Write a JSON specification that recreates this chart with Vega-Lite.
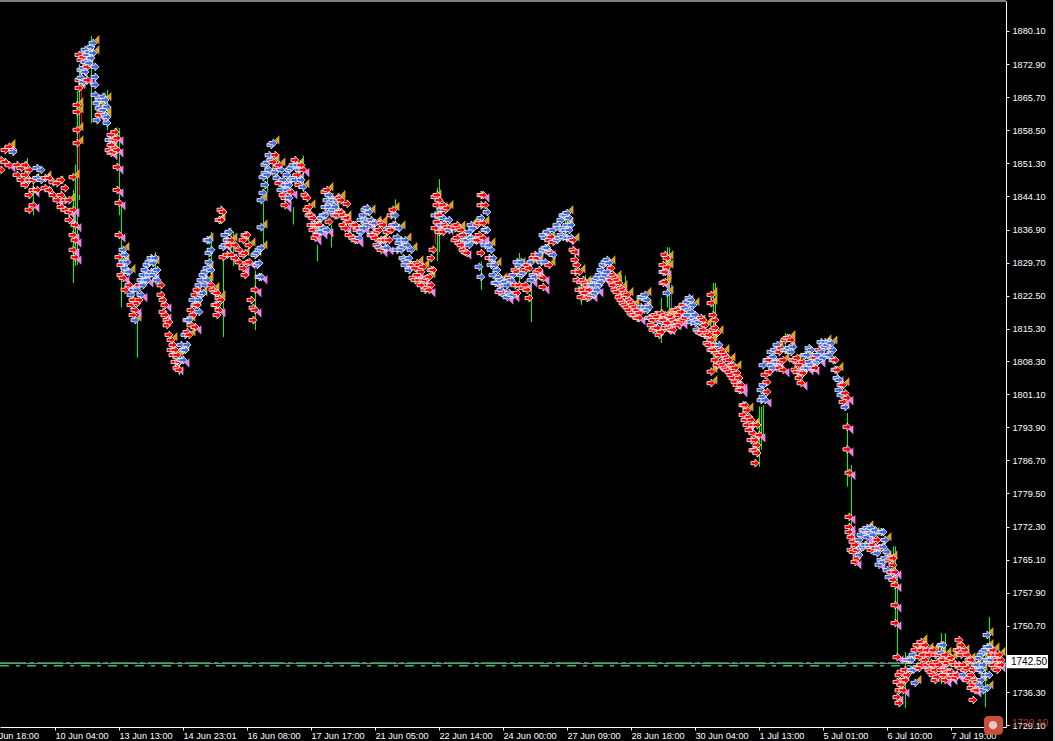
{
"$schema":"https://vega.github.io/schema/vega-lite/v6.json",
"autosize":{"type":"none"},
"padding":{"left":0,"top":1,"right":49,"bottom":14},
"width":1006,
"height":726,
"background":"#000000",
"view":{"stroke":null},
"config":{"font":"Liberation Sans"},
"datasets":{
"arrows":[
{"b":5,"p":1852.0,"k":"rg"},{"b":5,"p":1849.9,"k":"rp"},{"b":7,"p":1854.2,"k":"rg"},{"b":7,"p":1851.6,"k":"rp"},{"b":9,"p":1854.9,"k":"rg"},{"b":9,"p":1850.9,"k":"rp"},{"b":11,"p":1854.2,"k":"rg"},{"b":11,"p":1853.8,"k":"bp"},
{"b":13,"p":1850.9,"k":"rg"},{"b":13,"p":1848.8,"k":"rp"},{"b":15,"p":1850.3,"k":"rg"},{"b":15,"p":1847.7,"k":"rp"},{"b":17,"p":1850.9,"k":"rg"},{"b":17,"p":1848.8,"k":"rg"},{"b":17,"p":1846.6,"k":"rp"},
{"b":19,"p":1849.9,"k":"rg"},{"b":19,"p":1847.7,"k":"rg"},{"b":19,"p":1844.4,"k":"rp"},{"b":19,"p":1841.2,"k":"rp"},{"b":21,"p":1847.7,"k":"rg"},{"b":21,"p":1845.5,"k":"rp"},{"b":21,"p":1842.2,"k":"rp"},
{"b":23,"p":1850.3,"k":"bg"},{"b":23,"p":1848.1,"k":"bp"},{"b":23,"p":1845.5,"k":"rp"},{"b":25,"p":1849.9,"k":"bg"},{"b":25,"p":1847.7,"k":"bp"},{"b":27,"p":1848.1,"k":"rg"},{"b":27,"p":1845.9,"k":"rp"},
{"b":29,"p":1848.1,"k":"rg"},{"b":29,"p":1845.5,"k":"rp"},{"b":31,"p":1847.2,"k":"rg"},{"b":31,"p":1844.4,"k":"rp"},{"b":33,"p":1847.0,"k":"rg"},{"b":33,"p":1843.3,"k":"rp"},{"b":35,"p":1847.7,"k":"rg"},{"b":35,"p":1844.4,"k":"rp"},{"b":35,"p":1841.8,"k":"rp"},
{"b":37,"p":1845.9,"k":"rg"},{"b":37,"p":1843.3,"k":"rp"},{"b":37,"p":1841.2,"k":"rp"},{"b":39,"p":1843.3,"k":"rg"},{"b":39,"p":1840.7,"k":"rp"},{"b":39,"p":1839.0,"k":"rp"},
{"b":41,"p":1848.3,"k":"rg"},{"b":41,"p":1841.2,"k":"rp"},{"b":41,"p":1835.7,"k":"rp"},{"b":41,"p":1832.5,"k":"rp"},{"b":42,"p":1837.9,"k":"rp"},{"b":42,"p":1834.6,"k":"rp"},{"b":42,"p":1830.9,"k":"rp"},
{"b":43,"p":1855.7,"k":"rg"},{"b":43,"p":1858.6,"k":"rg"},{"b":43,"p":1862.5,"k":"rg"},{"b":43,"p":1864.0,"k":"rg"},{"b":44,"p":1867.7,"k":"rg"},{"b":44,"p":1869.4,"k":"rp"},{"b":44,"p":1874.9,"k":"rg"},
{"b":45,"p":1873.8,"k":"rg"},{"b":45,"p":1871.6,"k":"bp"},{"b":45,"p":1869.9,"k":"bp"},{"b":46,"p":1874.4,"k":"rg"},{"b":46,"p":1872.0,"k":"bp"},{"b":46,"p":1869.0,"k":"bp"},{"b":47,"p":1876.0,"k":"bg"},{"b":47,"p":1873.4,"k":"bp"},{"b":47,"p":1871.2,"k":"bp"},
{"b":48,"p":1872.3,"k":"rg"},{"b":48,"p":1874.9,"k":"bg"},{"b":48,"p":1869.4,"k":"rp"},{"b":49,"p":1875.5,"k":"bg"},{"b":49,"p":1873.1,"k":"bg"},{"b":50,"p":1876.6,"k":"bg"},{"b":50,"p":1874.2,"k":"bg"},{"b":51,"p":1877.5,"k":"bg"},{"b":51,"p":1875.3,"k":"bg"},
{"b":52,"p":1872.3,"k":"bp"},{"b":52,"p":1870.1,"k":"bp"},{"b":52,"p":1868.4,"k":"bp"},{"b":52,"p":1866.2,"k":"bp"},{"b":53,"p":1860.7,"k":"bp"},{"b":53,"p":1864.4,"k":"bg"},{"b":54,"p":1865.1,"k":"bg"},{"b":54,"p":1863.3,"k":"bg"},{"b":54,"p":1861.8,"k":"rp"},
{"b":55,"p":1865.1,"k":"bg"},{"b":55,"p":1862.5,"k":"rp"},{"b":56,"p":1865.8,"k":"bg"},{"b":56,"p":1862.9,"k":"bg"},{"b":57,"p":1865.1,"k":"bg"},{"b":57,"p":1861.8,"k":"bg"},{"b":58,"p":1863.6,"k":"bg"},{"b":58,"p":1860.1,"k":"bp"},{"b":58,"p":1861.4,"k":"bg"},
{"b":59,"p":1856.4,"k":"bg"},{"b":59,"p":1854.2,"k":"rp"},{"b":60,"p":1857.5,"k":"rg"},{"b":60,"p":1855.3,"k":"rg"},{"b":60,"p":1853.6,"k":"rp"},{"b":61,"p":1856.4,"k":"rg"},{"b":61,"p":1853.8,"k":"rp"},{"b":62,"p":1858.1,"k":"rp"},{"b":62,"p":1856.4,"k":"rp"},{"b":62,"p":1854.6,"k":"rp"},
{"b":63,"p":1856.8,"k":"rp"},{"b":63,"p":1854.2,"k":"rp"},{"b":63,"p":1850.5,"k":"rp"},{"b":63,"p":1845.5,"k":"rp"},{"b":64,"p":1842.7,"k":"rp"},{"b":64,"p":1835.7,"k":"rp"},{"b":64,"p":1830.9,"k":"rg"},
{"b":65,"p":1829.2,"k":"rg"},{"b":65,"p":1827.0,"k":"rp"},{"b":66,"p":1832.5,"k":"bg"},{"b":66,"p":1829.8,"k":"bg"},{"b":66,"p":1826.4,"k":"rp"},{"b":67,"p":1831.4,"k":"bg"},{"b":67,"p":1828.5,"k":"bp"},{"b":67,"p":1823.8,"k":"rp"},{"b":68,"p":1829.8,"k":"bg"},{"b":68,"p":1827.7,"k":"bp"},
{"b":69,"p":1827.7,"k":"bg"},{"b":69,"p":1824.8,"k":"rp"},{"b":70,"p":1822.7,"k":"bg"},{"b":70,"p":1820.5,"k":"rp"},{"b":71,"p":1823.8,"k":"bg"},{"b":71,"p":1821.6,"k":"rp"},{"b":71,"p":1818.3,"k":"rp"},{"b":72,"p":1817.2,"k":"bg"},{"b":72,"p":1819.4,"k":"rp"},
{"b":73,"p":1823.8,"k":"bg"},{"b":73,"p":1820.9,"k":"rg"},{"b":74,"p":1824.8,"k":"rg"},{"b":74,"p":1821.6,"k":"rp"},{"b":75,"p":1825.9,"k":"bg"},{"b":75,"p":1822.7,"k":"bp"},{"b":76,"p":1827.0,"k":"bg"},{"b":76,"p":1824.8,"k":"bg"},{"b":77,"p":1828.1,"k":"bg"},{"b":77,"p":1825.9,"k":"bp"},
{"b":78,"p":1829.2,"k":"bg"},{"b":78,"p":1825.9,"k":"bp"},{"b":79,"p":1829.8,"k":"bg"},{"b":79,"p":1827.0,"k":"bg"},{"b":80,"p":1830.7,"k":"bg"},{"b":80,"p":1827.7,"k":"bp"},{"b":81,"p":1829.6,"k":"bg"},{"b":81,"p":1827.0,"k":"bp"},{"b":82,"p":1830.7,"k":"bg"},{"b":82,"p":1827.7,"k":"bg"},{"b":83,"p":1828.1,"k":"bg"},{"b":83,"p":1825.9,"k":"bp"},
{"b":85,"p":1824.8,"k":"rg"},{"b":85,"p":1822.7,"k":"rp"},{"b":86,"p":1821.6,"k":"rg"},{"b":86,"p":1819.0,"k":"rp"},{"b":87,"p":1820.5,"k":"rp"},{"b":87,"p":1818.3,"k":"rp"},{"b":88,"p":1817.2,"k":"rg"},{"b":88,"p":1816.1,"k":"rp"},{"b":89,"p":1816.8,"k":"rg"},{"b":89,"p":1814.0,"k":"rp"},
{"b":90,"p":1812.9,"k":"rg"},{"b":90,"p":1810.7,"k":"rp"},{"b":91,"p":1811.8,"k":"rg"},{"b":91,"p":1809.6,"k":"rp"},{"b":92,"p":1810.7,"k":"rg"},{"b":92,"p":1808.1,"k":"rp"},{"b":93,"p":1809.6,"k":"rg"},{"b":93,"p":1806.8,"k":"rp"},{"b":94,"p":1808.1,"k":"rg"},{"b":94,"p":1806.4,"k":"rp"},
{"b":95,"p":1808.5,"k":"bg"},{"b":95,"p":1811.8,"k":"bg"},{"b":96,"p":1810.7,"k":"bg"},{"b":96,"p":1808.5,"k":"bp"},{"b":97,"p":1814.0,"k":"bg"},{"b":97,"p":1810.7,"k":"bp"},{"b":98,"p":1817.2,"k":"bg"},{"b":98,"p":1814.6,"k":"rg"},{"b":98,"p":1811.8,"k":"bg"},{"b":99,"p":1817.2,"k":"bg"},{"b":99,"p":1814.0,"k":"rg"},
{"b":100,"p":1819.4,"k":"rg"},{"b":100,"p":1816.1,"k":"rp"},{"b":101,"p":1821.6,"k":"bg"},{"b":101,"p":1818.3,"k":"rp"},{"b":102,"p":1822.7,"k":"rg"},{"b":102,"p":1820.5,"k":"bg"},{"b":102,"p":1815.7,"k":"rp"},{"b":103,"p":1823.8,"k":"rg"},{"b":103,"p":1820.5,"k":"rp"},
{"b":104,"p":1824.8,"k":"bg"},{"b":104,"p":1821.6,"k":"bg"},{"b":104,"p":1819.0,"k":"bp"},{"b":105,"p":1825.9,"k":"bg"},{"b":105,"p":1822.7,"k":"bg"},{"b":106,"p":1827.0,"k":"bg"},{"b":106,"p":1823.1,"k":"bg"},{"b":107,"p":1827.7,"k":"bg"},{"b":107,"p":1824.8,"k":"bg"},
{"b":108,"p":1828.5,"k":"bg"},{"b":108,"p":1825.9,"k":"bg"},{"b":108,"p":1834.6,"k":"bg"},{"b":109,"p":1834.6,"k":"bg"},{"b":109,"p":1831.8,"k":"bg"},{"b":109,"p":1829.8,"k":"bp"},{"b":110,"p":1828.1,"k":"bg"},{"b":110,"p":1832.5,"k":"bg"},{"b":110,"p":1824.8,"k":"rg"},
{"b":111,"p":1823.8,"k":"rg"},{"b":112,"p":1823.3,"k":"rg"},{"b":112,"p":1820.5,"k":"rp"},{"b":113,"p":1823.1,"k":"rg"},{"b":113,"p":1820.5,"k":"rp"},{"b":113,"p":1818.3,"k":"rp"},{"b":114,"p":1822.0,"k":"rg"},{"b":114,"p":1819.4,"k":"rp"},{"b":114,"p":1839.0,"k":"rg"},
{"b":115,"p":1841.2,"k":"rg"},{"b":115,"p":1839.0,"k":"rg"},{"b":115,"p":1821.6,"k":"rp"},{"b":116,"p":1840.7,"k":"rg"},{"b":116,"p":1833.1,"k":"bp"},{"b":116,"p":1830.9,"k":"rp"},{"b":117,"p":1835.7,"k":"bg"},{"b":117,"p":1833.5,"k":"bp"},{"b":118,"p":1834.6,"k":"bg"},{"b":118,"p":1831.4,"k":"rp"},{"b":119,"p":1836.4,"k":"bg"},{"b":119,"p":1833.5,"k":"rp"},
{"b":120,"p":1834.6,"k":"rg"},{"b":120,"p":1831.4,"k":"rp"},{"b":122,"p":1833.5,"k":"rg"},{"b":122,"p":1830.7,"k":"rp"},{"b":124,"p":1832.5,"k":"rg"},{"b":124,"p":1829.8,"k":"rp"},{"b":126,"p":1834.6,"k":"rg"},{"b":126,"p":1831.4,"k":"rg"},{"b":126,"p":1828.5,"k":"rp"},
{"b":127,"p":1835.7,"k":"rg"},{"b":127,"p":1831.8,"k":"rg"},{"b":127,"p":1827.0,"k":"rp"},{"b":128,"p":1835.7,"k":"rp"},{"b":128,"p":1829.6,"k":"rp"},{"b":129,"p":1833.5,"k":"rg"},{"b":129,"p":1829.8,"k":"rp"},{"b":130,"p":1821.6,"k":"rg"},{"b":131,"p":1817.2,"k":"rp"},{"b":131,"p":1819.9,"k":"rg"},
{"b":132,"p":1823.8,"k":"rp"},{"b":132,"p":1819.4,"k":"rp"},{"b":132,"p":1831.4,"k":"bg"},{"b":133,"p":1831.8,"k":"bg"},{"b":133,"p":1829.2,"k":"bg"},{"b":134,"p":1832.5,"k":"bp"},{"b":134,"p":1829.6,"k":"bg"},{"b":134,"p":1826.6,"k":"bg"},{"b":135,"p":1826.6,"k":"bp"},{"b":135,"p":1832.9,"k":"bg"},{"b":135,"p":1837.4,"k":"bg"},{"b":135,"p":1843.3,"k":"bg"},
{"b":136,"p":1844.9,"k":"bg"},{"b":136,"p":1848.3,"k":"bg"},{"b":137,"p":1849.2,"k":"bg"},{"b":137,"p":1846.6,"k":"bg"},{"b":137,"p":1851.0,"k":"bg"},{"b":138,"p":1851.4,"k":"bg"},{"b":138,"p":1848.8,"k":"bg"},{"b":139,"p":1853.1,"k":"bg"},{"b":139,"p":1849.9,"k":"bg"},
{"b":140,"p":1855.3,"k":"bg"},{"b":140,"p":1852.0,"k":"bg"},{"b":141,"p":1855.7,"k":"bg"},{"b":141,"p":1851.6,"k":"rg"},{"b":142,"p":1853.1,"k":"rg"},{"b":142,"p":1849.4,"k":"bp"},{"b":143,"p":1850.5,"k":"rp"},{"b":143,"p":1848.1,"k":"bg"},{"b":144,"p":1850.9,"k":"rg"},{"b":144,"p":1847.0,"k":"rp"},
{"b":145,"p":1849.9,"k":"bg"},{"b":145,"p":1845.5,"k":"bp"},{"b":146,"p":1847.7,"k":"bg"},{"b":146,"p":1844.4,"k":"rp"},{"b":147,"p":1846.6,"k":"bg"},{"b":147,"p":1843.8,"k":"rp"},{"b":147,"p":1842.2,"k":"rp"},{"b":148,"p":1848.8,"k":"bg"},{"b":148,"p":1845.5,"k":"bp"},
{"b":149,"p":1849.9,"k":"bg"},{"b":149,"p":1846.6,"k":"bg"},{"b":149,"p":1843.8,"k":"bp"},{"b":150,"p":1850.3,"k":"bg"},{"b":150,"p":1847.7,"k":"bg"},{"b":150,"p":1845.1,"k":"rp"},{"b":151,"p":1850.9,"k":"bg"},{"b":151,"p":1848.1,"k":"bp"},{"b":152,"p":1852.0,"k":"rg"},{"b":152,"p":1847.7,"k":"bp"},
{"b":153,"p":1850.9,"k":"bg"},{"b":153,"p":1848.8,"k":"rp"},{"b":154,"p":1849.9,"k":"bg"},{"b":154,"p":1846.6,"k":"rp"},{"b":155,"p":1850.9,"k":"rg"},{"b":155,"p":1847.7,"k":"bp"},{"b":156,"p":1846.2,"k":"bg"},{"b":156,"p":1849.9,"k":"rp"},{"b":157,"p":1844.4,"k":"rg"},
{"b":158,"p":1843.8,"k":"rg"},{"b":158,"p":1841.2,"k":"rp"},{"b":159,"p":1841.8,"k":"rg"},{"b":159,"p":1840.0,"k":"rp"},{"b":160,"p":1840.0,"k":"rg"},{"b":160,"p":1837.9,"k":"rp"},{"b":161,"p":1839.4,"k":"rg"},{"b":161,"p":1836.8,"k":"rp"},{"b":162,"p":1837.9,"k":"rg"},{"b":162,"p":1835.1,"k":"rp"},
{"b":163,"p":1837.9,"k":"rg"},{"b":163,"p":1835.7,"k":"rp"},{"b":164,"p":1836.4,"k":"bg"},{"b":164,"p":1837.9,"k":"rg"},{"b":165,"p":1839.4,"k":"bg"},{"b":165,"p":1836.4,"k":"bp"},{"b":166,"p":1840.0,"k":"bg"},{"b":166,"p":1837.2,"k":"bp"},
{"b":167,"p":1845.1,"k":"rg"},{"b":167,"p":1841.8,"k":"bg"},{"b":167,"p":1840.0,"k":"bp"},{"b":168,"p":1845.5,"k":"rg"},{"b":168,"p":1843.3,"k":"bg"},{"b":168,"p":1836.8,"k":"bp"},{"b":169,"p":1844.4,"k":"bg"},{"b":169,"p":1841.8,"k":"bg"},{"b":169,"p":1838.6,"k":"rp"},
{"b":170,"p":1842.9,"k":"bg"},{"b":170,"p":1840.7,"k":"bg"},{"b":171,"p":1843.3,"k":"bg"},{"b":171,"p":1841.2,"k":"bg"},{"b":172,"p":1841.8,"k":"bg"},{"b":172,"p":1840.0,"k":"rp"},{"b":173,"p":1843.3,"k":"bg"},{"b":173,"p":1840.0,"k":"rp"},{"b":174,"p":1843.8,"k":"rg"},{"b":174,"p":1840.7,"k":"rp"},
{"b":175,"p":1843.3,"k":"rg"},{"b":175,"p":1840.7,"k":"rp"},{"b":176,"p":1840.0,"k":"rg"},{"b":176,"p":1837.9,"k":"rg"},{"b":177,"p":1839.4,"k":"rg"},{"b":177,"p":1837.2,"k":"rp"},{"b":178,"p":1842.5,"k":"rg"},{"b":178,"p":1839.4,"k":"rp"},{"b":179,"p":1838.5,"k":"rg"},{"b":179,"p":1835.7,"k":"rp"},
{"b":181,"p":1837.9,"k":"rg"},{"b":181,"p":1835.1,"k":"rp"},{"b":182,"p":1837.9,"k":"rg"},{"b":182,"p":1834.6,"k":"rp"},{"b":183,"p":1836.8,"k":"rg"},{"b":183,"p":1834.6,"k":"rp"},{"b":184,"p":1837.2,"k":"rg"},{"b":184,"p":1835.1,"k":"bp"},
{"b":185,"p":1839.0,"k":"bg"},{"b":185,"p":1836.4,"k":"bp"},{"b":186,"p":1840.0,"k":"bg"},{"b":186,"p":1837.2,"k":"bp"},{"b":187,"p":1841.2,"k":"bg"},{"b":187,"p":1839.0,"k":"bg"},{"b":188,"p":1841.6,"k":"bg"},{"b":188,"p":1838.6,"k":"bp"},{"b":189,"p":1840.7,"k":"bg"},{"b":189,"p":1837.9,"k":"bp"},
{"b":190,"p":1839.0,"k":"bg"},{"b":190,"p":1835.7,"k":"bp"},{"b":191,"p":1838.3,"k":"rg"},{"b":191,"p":1835.7,"k":"rp"},{"b":192,"p":1838.3,"k":"bg"},{"b":192,"p":1835.1,"k":"rp"},{"b":193,"p":1836.4,"k":"rg"},{"b":193,"p":1833.5,"k":"rp"},{"b":194,"p":1836.8,"k":"rg"},{"b":194,"p":1833.1,"k":"bp"},
{"b":195,"p":1838.3,"k":"rg"},{"b":195,"p":1834.6,"k":"rg"},{"b":195,"p":1832.5,"k":"rp"},{"b":196,"p":1837.9,"k":"rg"},{"b":196,"p":1834.6,"k":"rp"},{"b":197,"p":1834.6,"k":"rg"},{"b":197,"p":1832.9,"k":"bp"},{"b":198,"p":1836.4,"k":"rg"},{"b":198,"p":1832.9,"k":"bp"},
{"b":199,"p":1837.2,"k":"bg"},{"b":199,"p":1834.6,"k":"rp"},{"b":200,"p":1840.0,"k":"rg"},{"b":200,"p":1836.8,"k":"rp"},{"b":201,"p":1841.2,"k":"rg"},{"b":201,"p":1837.9,"k":"rp"},{"b":202,"p":1840.0,"k":"bg"},{"b":202,"p":1837.9,"k":"bp"},{"b":203,"p":1835.2,"k":"bg"},{"b":203,"p":1832.5,"k":"bp"},
{"b":204,"p":1837.2,"k":"bg"},{"b":204,"p":1834.0,"k":"bp"},{"b":205,"p":1834.6,"k":"bg"},{"b":205,"p":1832.5,"k":"bp"},{"b":206,"p":1833.1,"k":"bg"},{"b":206,"p":1830.7,"k":"bp"},{"b":207,"p":1834.6,"k":"bg"},{"b":207,"p":1830.3,"k":"bp"},{"b":207,"p":1829.2,"k":"bp"},
{"b":208,"p":1833.5,"k":"bg"},{"b":208,"p":1829.8,"k":"bp"},{"b":209,"p":1830.7,"k":"bg"},{"b":209,"p":1828.1,"k":"bp"},{"b":210,"p":1832.5,"k":"bg"},{"b":210,"p":1829.2,"k":"rp"},{"b":211,"p":1829.2,"k":"rg"},{"b":211,"p":1826.4,"k":"rp"},{"b":212,"p":1828.5,"k":"rg"},{"b":212,"p":1825.9,"k":"rp"},
{"b":213,"p":1829.6,"k":"rg"},{"b":213,"p":1827.0,"k":"rp"},{"b":214,"p":1829.2,"k":"rg"},{"b":214,"p":1825.9,"k":"rp"},{"b":215,"p":1827.7,"k":"rg"},{"b":215,"p":1824.8,"k":"rp"},{"b":216,"p":1828.8,"k":"rg"},{"b":216,"p":1825.9,"k":"rp"},{"b":217,"p":1825.9,"k":"rg"},{"b":217,"p":1823.8,"k":"rp"},
{"b":218,"p":1826.4,"k":"rg"},{"b":218,"p":1824.2,"k":"rp"},{"b":219,"p":1826.6,"k":"rg"},{"b":219,"p":1823.8,"k":"rp"},{"b":220,"p":1830.7,"k":"rg"},{"b":220,"p":1828.1,"k":"rg"},{"b":220,"p":1824.8,"k":"rg"},{"b":221,"p":1832.5,"k":"rg"},{"b":221,"p":1828.1,"k":"rg"},
{"b":222,"p":1837.2,"k":"rp"},{"b":222,"p":1840.0,"k":"bg"},{"b":222,"p":1844.0,"k":"rg"},{"b":223,"p":1844.4,"k":"rg"},{"b":223,"p":1842.2,"k":"rg"},{"b":223,"p":1838.5,"k":"rp"},{"b":224,"p":1843.3,"k":"rg"},{"b":224,"p":1840.0,"k":"rg"},{"b":224,"p":1836.4,"k":"rg"},
{"b":225,"p":1841.2,"k":"bg"},{"b":225,"p":1837.9,"k":"bp"},{"b":226,"p":1842.2,"k":"rp"},{"b":226,"p":1839.4,"k":"bg"},{"b":226,"p":1836.4,"k":"rp"},{"b":227,"p":1841.2,"k":"rg"},{"b":227,"p":1837.9,"k":"rp"},{"b":228,"p":1841.6,"k":"rg"},{"b":228,"p":1837.4,"k":"rp"},{"b":229,"p":1839.0,"k":"bg"},{"b":229,"p":1836.8,"k":"bp"},{"b":230,"p":1837.4,"k":"rp"},
{"b":232,"p":1837.2,"k":"rg"},{"b":232,"p":1834.6,"k":"rp"},{"b":233,"p":1837.9,"k":"rg"},{"b":233,"p":1835.1,"k":"rp"},{"b":234,"p":1837.2,"k":"rg"},{"b":234,"p":1834.0,"k":"rp"},{"b":235,"p":1836.8,"k":"rg"},{"b":235,"p":1833.5,"k":"rp"},{"b":236,"p":1835.7,"k":"rg"},{"b":236,"p":1832.5,"k":"rp"},
{"b":237,"p":1834.6,"k":"bg"},{"b":237,"p":1832.0,"k":"rp"},{"b":238,"p":1834.6,"k":"bg"},{"b":238,"p":1831.8,"k":"rp"},{"b":239,"p":1836.4,"k":"bg"},{"b":239,"p":1833.5,"k":"bp"},{"b":240,"p":1837.9,"k":"bg"},{"b":240,"p":1835.1,"k":"bp"},{"b":241,"p":1837.2,"k":"bg"},{"b":241,"p":1834.6,"k":"bp"},{"b":242,"p":1834.6,"k":"bp"},
{"b":243,"p":1837.9,"k":"rg"},{"b":243,"p":1834.6,"k":"rp"},{"b":244,"p":1838.3,"k":"rg"},{"b":244,"p":1835.7,"k":"rp"},{"b":244,"p":1828.8,"k":"bp"},{"b":245,"p":1844.4,"k":"rg"},{"b":245,"p":1842.2,"k":"rg"},{"b":245,"p":1839.4,"k":"bp"},{"b":245,"p":1831.8,"k":"rp"},{"b":245,"p":1826.6,"k":"bg"},
{"b":246,"p":1844.4,"k":"rp"},{"b":246,"p":1838.3,"k":"rg"},{"b":246,"p":1835.1,"k":"rp"},{"b":247,"p":1842.2,"k":"rg"},{"b":247,"p":1836.8,"k":"bp"},{"b":247,"p":1833.5,"k":"bp"},{"b":248,"p":1840.7,"k":"bp"},{"b":248,"p":1836.8,"k":"bg"},{"b":249,"p":1833.5,"k":"bg"},{"b":249,"p":1830.7,"k":"rp"},
{"b":250,"p":1832.5,"k":"bg"},{"b":250,"p":1829.2,"k":"bp"},{"b":251,"p":1830.7,"k":"bg"},{"b":251,"p":1827.0,"k":"bg"},{"b":252,"p":1829.2,"k":"bg"},{"b":252,"p":1825.3,"k":"bp"},{"b":253,"p":1828.1,"k":"bg"},{"b":253,"p":1825.3,"k":"bp"},{"b":254,"p":1826.6,"k":"bg"},{"b":254,"p":1823.3,"k":"rp"},
{"b":255,"p":1825.9,"k":"bg"},{"b":255,"p":1823.8,"k":"bp"},{"b":256,"p":1825.3,"k":"bg"},{"b":256,"p":1823.1,"k":"rp"},{"b":257,"p":1825.5,"k":"bg"},{"b":257,"p":1822.7,"k":"bp"},{"b":258,"p":1824.8,"k":"bg"},{"b":258,"p":1822.2,"k":"bp"},{"b":259,"p":1826.4,"k":"rg"},{"b":259,"p":1823.1,"k":"bp"},
{"b":260,"p":1825.9,"k":"bg"},{"b":260,"p":1822.7,"k":"bp"},{"b":261,"p":1827.0,"k":"bg"},{"b":261,"p":1822.7,"k":"bp"},{"b":262,"p":1828.1,"k":"rg"},{"b":262,"p":1824.8,"k":"rp"},{"b":263,"p":1829.8,"k":"bg"},{"b":263,"p":1827.7,"k":"rg"},{"b":263,"p":1823.1,"k":"rp"},
{"b":264,"p":1829.2,"k":"bg"},{"b":264,"p":1824.8,"k":"rp"},{"b":265,"p":1829.8,"k":"bg"},{"b":265,"p":1827.0,"k":"bp"},{"b":266,"p":1827.5,"k":"bg"},{"b":266,"p":1824.2,"k":"rp"},{"b":267,"p":1828.1,"k":"rg"},{"b":267,"p":1824.8,"k":"rp"},{"b":268,"p":1829.2,"k":"rg"},{"b":268,"p":1823.8,"k":"rp"},
{"b":269,"p":1828.5,"k":"rg"},{"b":269,"p":1822.0,"k":"rp"},{"b":270,"p":1829.8,"k":"bg"},{"b":270,"p":1825.9,"k":"bp"},{"b":271,"p":1830.7,"k":"rg"},{"b":271,"p":1827.0,"k":"bp"},{"b":272,"p":1831.4,"k":"rg"},{"b":272,"p":1826.6,"k":"bp"},{"b":273,"p":1830.7,"k":"rg"},{"b":273,"p":1827.7,"k":"rp"},
{"b":274,"p":1831.4,"k":"bg"},{"b":274,"p":1828.1,"k":"rp"},{"b":275,"p":1829.8,"k":"bg"},{"b":275,"p":1826.6,"k":"rp"},{"b":276,"p":1835.7,"k":"bg"},{"b":276,"p":1832.5,"k":"bg"},{"b":276,"p":1826.4,"k":"rp"},{"b":276,"p":1824.4,"k":"rp"},
{"b":277,"p":1835.1,"k":"bg"},{"b":277,"p":1832.9,"k":"bp"},{"b":277,"p":1829.8,"k":"bp"},{"b":278,"p":1836.4,"k":"bg"},{"b":278,"p":1832.9,"k":"bp"},{"b":279,"p":1834.6,"k":"rg"},{"b":279,"p":1832.0,"k":"bp"},{"b":279,"p":1829.2,"k":"rg"},{"b":280,"p":1835.3,"k":"rg"},{"b":280,"p":1831.8,"k":"rp"},
{"b":281,"p":1836.8,"k":"bg"},{"b":281,"p":1834.2,"k":"rp"},{"b":281,"p":1831.4,"k":"bg"},{"b":283,"p":1837.9,"k":"bg"},{"b":283,"p":1834.6,"k":"bp"},{"b":284,"p":1837.2,"k":"bg"},{"b":284,"p":1835.1,"k":"bp"},{"b":285,"p":1839.0,"k":"bg"},{"b":285,"p":1835.7,"k":"bp"},
{"b":286,"p":1840.0,"k":"bg"},{"b":286,"p":1837.2,"k":"bg"},{"b":286,"p":1835.3,"k":"bp"},{"b":287,"p":1840.0,"k":"bg"},{"b":287,"p":1836.8,"k":"bp"},{"b":288,"p":1840.5,"k":"bg"},{"b":288,"p":1837.9,"k":"bg"},{"b":288,"p":1835.1,"k":"bp"},{"b":289,"p":1839.4,"k":"bg"},{"b":289,"p":1836.8,"k":"bg"},{"b":290,"p":1837.9,"k":"bg"},{"b":290,"p":1835.1,"k":"bp"},
{"b":291,"p":1834.6,"k":"rg"},{"b":291,"p":1832.5,"k":"rp"},{"b":292,"p":1832.0,"k":"rp"},{"b":292,"p":1830.3,"k":"rp"},{"b":292,"p":1827.7,"k":"rp"},{"b":293,"p":1829.2,"k":"rg"},{"b":293,"p":1825.9,"k":"rp"},{"b":294,"p":1827.7,"k":"rg"},{"b":294,"p":1823.8,"k":"rp"},{"b":295,"p":1825.5,"k":"rg"},{"b":295,"p":1822.2,"k":"rp"},
{"b":296,"p":1825.9,"k":"rg"},{"b":296,"p":1823.8,"k":"rp"},{"b":297,"p":1825.3,"k":"rg"},{"b":297,"p":1823.1,"k":"rp"},{"b":298,"p":1824.8,"k":"rg"},{"b":298,"p":1822.0,"k":"rp"},{"b":299,"p":1823.8,"k":"rg"},{"b":299,"p":1822.2,"k":"rp"},{"b":300,"p":1824.8,"k":"bg"},{"b":300,"p":1822.7,"k":"rp"},
{"b":301,"p":1824.8,"k":"bg"},{"b":301,"p":1822.7,"k":"bp"},{"b":302,"p":1825.9,"k":"bg"},{"b":302,"p":1823.1,"k":"bp"},{"b":303,"p":1826.4,"k":"bg"},{"b":303,"p":1823.8,"k":"bp"},{"b":304,"p":1827.0,"k":"bg"},{"b":304,"p":1824.8,"k":"bp"},{"b":305,"p":1828.1,"k":"bg"},{"b":305,"p":1825.5,"k":"bp"},
{"b":306,"p":1829.2,"k":"bg"},{"b":306,"p":1826.4,"k":"bp"},{"b":307,"p":1829.8,"k":"bg"},{"b":307,"p":1827.0,"k":"bp"},{"b":308,"p":1830.3,"k":"bg"},{"b":308,"p":1827.7,"k":"bg"},{"b":309,"p":1829.6,"k":"bg"},{"b":310,"p":1828.5,"k":"rg"},{"b":310,"p":1825.9,"k":"rp"},{"b":311,"p":1827.0,"k":"rg"},{"b":311,"p":1824.8,"k":"rp"},
{"b":312,"p":1826.4,"k":"rg"},{"b":312,"p":1823.8,"k":"rp"},{"b":313,"p":1825.9,"k":"rg"},{"b":313,"p":1823.3,"k":"rp"},{"b":314,"p":1825.3,"k":"rg"},{"b":314,"p":1822.2,"k":"rp"},{"b":315,"p":1824.2,"k":"rg"},{"b":315,"p":1821.6,"k":"rp"},{"b":316,"p":1823.8,"k":"rg"},{"b":316,"p":1820.9,"k":"rp"},
{"b":317,"p":1823.1,"k":"rg"},{"b":317,"p":1820.5,"k":"rp"},{"b":318,"p":1822.7,"k":"rg"},{"b":318,"p":1820.0,"k":"rp"},{"b":319,"p":1821.6,"k":"rg"},{"b":319,"p":1819.4,"k":"rp"},{"b":320,"p":1821.1,"k":"rg"},{"b":320,"p":1818.7,"k":"rp"},{"b":321,"p":1820.5,"k":"rg"},{"b":321,"p":1818.3,"k":"rp"},
{"b":322,"p":1820.0,"k":"rg"},{"b":322,"p":1818.3,"k":"rp"},{"b":323,"p":1819.4,"k":"rg"},{"b":323,"p":1817.7,"k":"rp"},{"b":324,"p":1818.7,"k":"rg"},{"b":324,"p":1817.7,"k":"rp"},{"b":325,"p":1822.2,"k":"bg"},{"b":325,"p":1820.0,"k":"bg"},{"b":326,"p":1822.2,"k":"bg"},
{"b":327,"p":1822.7,"k":"bg"},{"b":327,"p":1820.0,"k":"bg"},{"b":328,"p":1821.6,"k":"bg"},{"b":328,"p":1819.4,"k":"bg"},{"b":329,"p":1820.0,"k":"bg"},{"b":329,"p":1817.7,"k":"bp"},{"b":330,"p":1817.7,"k":"rg"},{"b":330,"p":1816.1,"k":"rp"},{"b":331,"p":1817.2,"k":"rg"},{"b":331,"p":1815.1,"k":"rp"},
{"b":332,"p":1818.3,"k":"rg"},{"b":332,"p":1815.5,"k":"rp"},{"b":333,"p":1817.9,"k":"rg"},{"b":333,"p":1815.5,"k":"rp"},{"b":334,"p":1817.2,"k":"rg"},{"b":334,"p":1814.0,"k":"rp"},{"b":335,"p":1818.7,"k":"rg"},{"b":335,"p":1816.8,"k":"bp"},{"b":335,"p":1814.6,"k":"rp"},
{"b":336,"p":1827.7,"k":"bg"},{"b":336,"p":1825.3,"k":"rp"},{"b":336,"p":1829.2,"k":"rg"},{"b":336,"p":1817.2,"k":"rg"},{"b":337,"p":1831.4,"k":"rp"},{"b":337,"p":1827.7,"k":"rp"},{"b":337,"p":1825.5,"k":"rg"},{"b":337,"p":1818.3,"k":"rg"},{"b":337,"p":1815.5,"k":"rp"},
{"b":338,"p":1830.7,"k":"rg"},{"b":338,"p":1828.7,"k":"rg"},{"b":338,"p":1823.1,"k":"bg"},{"b":338,"p":1816.6,"k":"rp"},{"b":339,"p":1818.1,"k":"rg"},{"b":339,"p":1815.5,"k":"rp"},{"b":340,"p":1817.9,"k":"rg"},{"b":340,"p":1815.1,"k":"rp"},{"b":341,"p":1817.2,"k":"rg"},{"b":341,"p":1815.1,"k":"rp"},
{"b":342,"p":1819.4,"k":"rg"},{"b":342,"p":1816.6,"k":"rp"},{"b":343,"p":1819.4,"k":"rg"},{"b":343,"p":1816.8,"k":"rp"},{"b":344,"p":1818.3,"k":"rg"},{"b":344,"p":1816.1,"k":"rp"},{"b":345,"p":1819.0,"k":"rg"},{"b":345,"p":1816.8,"k":"rp"},{"b":346,"p":1820.5,"k":"rg"},{"b":346,"p":1817.2,"k":"rp"},
{"b":347,"p":1819.9,"k":"bg"},{"b":347,"p":1817.7,"k":"rp"},{"b":348,"p":1821.1,"k":"bg"},{"b":348,"p":1818.3,"k":"bp"},{"b":349,"p":1822.0,"k":"bg"},{"b":349,"p":1819.4,"k":"bp"},{"b":350,"p":1821.6,"k":"bg"},{"b":350,"p":1819.0,"k":"bp"},{"b":350,"p":1816.8,"k":"bp"},
{"b":351,"p":1820.5,"k":"bg"},{"b":351,"p":1817.7,"k":"bp"},{"b":352,"p":1818.3,"k":"bg"},{"b":352,"p":1816.6,"k":"bp"},{"b":353,"p":1817.2,"k":"bg"},{"b":353,"p":1815.1,"k":"bp"},{"b":354,"p":1816.8,"k":"bg"},{"b":354,"p":1814.6,"k":"rp"},{"b":355,"p":1817.7,"k":"rg"},{"b":355,"p":1814.4,"k":"rp"},
{"b":356,"p":1817.2,"k":"rg"},{"b":356,"p":1815.1,"k":"rp"},{"b":357,"p":1816.1,"k":"rg"},{"b":357,"p":1814.0,"k":"rp"},{"b":358,"p":1814.4,"k":"rg"},{"b":358,"p":1812.2,"k":"rp"},{"b":359,"p":1814.0,"k":"rg"},{"b":359,"p":1811.8,"k":"rp"},
{"b":360,"p":1822.7,"k":"rg"},{"b":360,"p":1820.9,"k":"rg"},{"b":360,"p":1812.9,"k":"rg"},{"b":360,"p":1810.7,"k":"rp"},{"b":360,"p":1806.0,"k":"rg"},{"b":360,"p":1803.5,"k":"rg"},{"b":361,"p":1818.3,"k":"rp"},{"b":361,"p":1815.1,"k":"rg"},{"b":361,"p":1810.7,"k":"rp"},
{"b":362,"p":1817.2,"k":"rp"},{"b":362,"p":1815.5,"k":"rp"},{"b":362,"p":1811.8,"k":"rg"},{"b":362,"p":1808.5,"k":"rp"},{"b":363,"p":1814.4,"k":"rg"},{"b":363,"p":1810.0,"k":"rp"},{"b":363,"p":1807.4,"k":"rp"},{"b":364,"p":1811.8,"k":"bp"},{"b":364,"p":1809.6,"k":"rg"},
{"b":365,"p":1810.7,"k":"rg"},{"b":365,"p":1807.9,"k":"rp"},{"b":366,"p":1810.3,"k":"rg"},{"b":366,"p":1807.4,"k":"rp"},{"b":367,"p":1809.6,"k":"rg"},{"b":367,"p":1806.8,"k":"rp"},{"b":368,"p":1809.0,"k":"rg"},{"b":368,"p":1806.4,"k":"rp"},{"b":369,"p":1808.5,"k":"rg"},{"b":369,"p":1805.9,"k":"rp"},
{"b":370,"p":1807.4,"k":"rg"},{"b":370,"p":1805.3,"k":"rp"},{"b":371,"p":1807.4,"k":"rg"},{"b":371,"p":1804.6,"k":"rp"},{"b":372,"p":1806.8,"k":"rg"},{"b":372,"p":1803.8,"k":"rp"},{"b":373,"p":1805.7,"k":"rg"},{"b":373,"p":1803.1,"k":"rp"},{"b":374,"p":1804.6,"k":"rg"},{"b":374,"p":1802.0,"k":"rp"},{"b":375,"p":1803.1,"k":"rp"},{"b":375,"p":1802.0,"k":"rp"},
{"b":376,"p":1798.7,"k":"rg"},{"b":376,"p":1796.6,"k":"rp"},{"b":377,"p":1798.7,"k":"rg"},{"b":377,"p":1795.5,"k":"rp"},{"b":378,"p":1797.6,"k":"rg"},{"b":378,"p":1794.4,"k":"rp"},{"b":379,"p":1796.1,"k":"rg"},{"b":379,"p":1793.3,"k":"rp"},{"b":380,"p":1795.5,"k":"rg"},{"b":380,"p":1791.1,"k":"rp"},
{"b":381,"p":1794.4,"k":"rg"},{"b":381,"p":1792.6,"k":"rp"},{"b":381,"p":1788.9,"k":"rp"},{"b":382,"p":1791.1,"k":"rg"},{"b":382,"p":1788.9,"k":"rp"},{"b":382,"p":1786.1,"k":"rp"},{"b":383,"p":1794.4,"k":"rp"},{"b":383,"p":1790.0,"k":"rp"},{"b":383,"p":1788.3,"k":"rp"},{"b":384,"p":1792.2,"k":"rp"},
{"b":385,"p":1799.8,"k":"bg"},{"b":385,"p":1802.0,"k":"bg"},{"b":386,"p":1807.4,"k":"bg"},{"b":386,"p":1800.5,"k":"bg"},{"b":386,"p":1803.1,"k":"bg"},{"b":387,"p":1799.8,"k":"bp"},{"b":387,"p":1805.3,"k":"rg"},{"b":388,"p":1803.7,"k":"rg"},{"b":388,"p":1801.6,"k":"rg"},{"b":388,"p":1808.5,"k":"bg"},
{"b":389,"p":1808.5,"k":"rg"},{"b":389,"p":1805.9,"k":"rp"},{"b":390,"p":1810.3,"k":"bg"},{"b":390,"p":1807.4,"k":"bp"},{"b":391,"p":1809.2,"k":"bg"},{"b":391,"p":1806.8,"k":"bp"},{"b":392,"p":1810.7,"k":"bg"},{"b":392,"p":1808.1,"k":"bp"},{"b":393,"p":1811.8,"k":"bg"},{"b":393,"p":1808.1,"k":"bp"},
{"b":394,"p":1810.3,"k":"rg"},{"b":394,"p":1806.8,"k":"rp"},{"b":395,"p":1811.1,"k":"rg"},{"b":395,"p":1808.1,"k":"rp"},{"b":396,"p":1808.5,"k":"rg"},{"b":396,"p":1806.4,"k":"rp"},{"b":397,"p":1812.9,"k":"rg"},{"b":397,"p":1810.7,"k":"bp"},{"b":398,"p":1813.3,"k":"rg"},{"b":398,"p":1810.7,"k":"bp"},
{"b":399,"p":1813.3,"k":"rg"},{"b":399,"p":1811.1,"k":"bg"},{"b":400,"p":1812.9,"k":"rg"},{"b":400,"p":1810.3,"k":"bg"},{"b":401,"p":1811.4,"k":"bg"},{"b":401,"p":1808.5,"k":"rp"},{"b":402,"p":1808.5,"k":"rg"},{"b":402,"p":1806.4,"k":"rp"},{"b":403,"p":1809.0,"k":"rg"},{"b":403,"p":1805.9,"k":"rp"},
{"b":404,"p":1807.4,"k":"rg"},{"b":404,"p":1804.6,"k":"rp"},{"b":405,"p":1805.9,"k":"rg"},{"b":405,"p":1803.5,"k":"rp"},{"b":406,"p":1808.1,"k":"rg"},{"b":406,"p":1805.7,"k":"rp"},{"b":407,"p":1809.6,"k":"bg"},{"b":407,"p":1806.8,"k":"bp"},{"b":408,"p":1809.6,"k":"bg"},{"b":408,"p":1806.8,"k":"bp"},
{"b":409,"p":1811.1,"k":"bg"},{"b":409,"p":1808.1,"k":"bp"},{"b":410,"p":1810.7,"k":"bg"},{"b":410,"p":1807.4,"k":"bp"},{"b":411,"p":1809.0,"k":"bg"},{"b":411,"p":1806.8,"k":"bp"},{"b":412,"p":1809.0,"k":"rg"},{"b":412,"p":1806.8,"k":"rp"},{"b":413,"p":1809.6,"k":"bg"},{"b":413,"p":1808.1,"k":"bp"},
{"b":414,"p":1810.7,"k":"rg"},{"b":414,"p":1808.5,"k":"bp"},{"b":415,"p":1812.4,"k":"bg"},{"b":415,"p":1810.3,"k":"bp"},{"b":416,"p":1811.8,"k":"bg"},{"b":416,"p":1809.0,"k":"bp"},{"b":417,"p":1812.4,"k":"bg"},{"b":417,"p":1811.4,"k":"bp"},{"b":418,"p":1811.8,"k":"bg"},{"b":418,"p":1809.6,"k":"bp"},
{"b":419,"p":1812.4,"k":"bg"},{"b":419,"p":1809.6,"k":"bg"},{"b":420,"p":1812.2,"k":"bg"},{"b":421,"p":1810.7,"k":"bg"},{"b":421,"p":1808.5,"k":"bp"},{"b":422,"p":1808.5,"k":"rg"},{"b":422,"p":1806.4,"k":"bp"},{"b":423,"p":1806.4,"k":"rg"},{"b":423,"p":1804.6,"k":"bp"},
{"b":424,"p":1804.2,"k":"bg"},{"b":424,"p":1802.0,"k":"bg"},{"b":425,"p":1803.1,"k":"rg"},{"b":425,"p":1800.9,"k":"bg"},{"b":426,"p":1803.1,"k":"rg"},{"b":426,"p":1799.4,"k":"rp"},{"b":427,"p":1801.3,"k":"rg"},{"b":427,"p":1798.3,"k":"bp"},{"b":428,"p":1800.3,"k":"rp"},{"b":428,"p":1794.0,"k":"rp"},{"b":428,"p":1789.1,"k":"rp"},
{"b":429,"p":1784.0,"k":"rp"},{"b":429,"p":1774.4,"k":"rp"},{"b":429,"p":1772.2,"k":"rp"},{"b":429,"p":1771.1,"k":"rp"},{"b":430,"p":1770.0,"k":"rg"},{"b":430,"p":1767.2,"k":"rp"},{"b":431,"p":1769.0,"k":"rg"},{"b":431,"p":1766.8,"k":"rp"},{"b":432,"p":1768.3,"k":"rg"},{"b":432,"p":1764.6,"k":"rp"},{"b":433,"p":1767.2,"k":"rg"},{"b":433,"p":1765.4,"k":"rp"},
{"b":434,"p":1769.4,"k":"bg"},{"b":434,"p":1766.1,"k":"bp"},{"b":435,"p":1770.5,"k":"bg"},{"b":435,"p":1767.6,"k":"bg"},{"b":436,"p":1771.5,"k":"bg"},{"b":436,"p":1767.9,"k":"bp"},{"b":437,"p":1771.5,"k":"bg"},{"b":437,"p":1768.3,"k":"bp"},{"b":438,"p":1772.0,"k":"bg"},{"b":438,"p":1770.0,"k":"bp"},
{"b":439,"p":1771.5,"k":"bg"},{"b":439,"p":1768.3,"k":"bp"},{"b":440,"p":1772.0,"k":"bg"},{"b":440,"p":1770.9,"k":"bg"},{"b":440,"p":1767.2,"k":"rp"},{"b":441,"p":1770.5,"k":"bg"},{"b":441,"p":1768.3,"k":"rp"},{"b":442,"p":1771.5,"k":"bg"},{"b":442,"p":1767.6,"k":"bp"},
{"b":443,"p":1769.4,"k":"rg"},{"b":443,"p":1766.5,"k":"bp"},{"b":444,"p":1767.6,"k":"rg"},{"b":444,"p":1764.0,"k":"bp"},{"b":445,"p":1771.1,"k":"bg"},{"b":445,"p":1767.6,"k":"rp"},{"b":445,"p":1765.0,"k":"bp"},{"b":446,"p":1771.1,"k":"bg"},{"b":446,"p":1767.9,"k":"bg"},{"b":446,"p":1764.6,"k":"bp"},
{"b":447,"p":1769.4,"k":"bg"},{"b":447,"p":1765.4,"k":"bg"},{"b":448,"p":1766.8,"k":"bg"},{"b":448,"p":1762.8,"k":"bp"},{"b":449,"p":1765.0,"k":"rg"},{"b":449,"p":1761.3,"k":"bp"},{"b":450,"p":1765.4,"k":"rg"},{"b":450,"p":1762.4,"k":"rp"},{"b":451,"p":1765.4,"k":"rp"},{"b":451,"p":1763.9,"k":"rp"},{"b":451,"p":1760.7,"k":"rp"},
{"b":452,"p":1762.4,"k":"rp"},{"b":452,"p":1759.6,"k":"rp"},{"b":452,"p":1755.2,"k":"rp"},{"b":452,"p":1751.3,"k":"rp"},{"b":453,"p":1743.9,"k":"rp"},{"b":453,"p":1738.5,"k":"rp"},{"b":453,"p":1735.2,"k":"rp"},{"b":454,"p":1740.0,"k":"rg"},{"b":454,"p":1736.7,"k":"rp"},{"b":454,"p":1733.9,"k":"rp"},
{"b":455,"p":1740.7,"k":"rg"},{"b":455,"p":1737.9,"k":"rp"},{"b":456,"p":1736.7,"k":"rp"},{"b":456,"p":1738.9,"k":"rg"},{"b":457,"p":1741.1,"k":"rg"},{"b":457,"p":1738.9,"k":"rp"},{"b":458,"p":1743.3,"k":"bg"},{"b":458,"p":1740.0,"k":"rp"},{"b":459,"p":1743.3,"k":"rg"},
{"b":460,"p":1743.3,"k":"bg"},{"b":460,"p":1741.1,"k":"bp"},{"b":461,"p":1744.4,"k":"bg"},{"b":461,"p":1741.1,"k":"bp"},{"b":462,"p":1745.4,"k":"rg"},{"b":462,"p":1738.3,"k":"bg"},{"b":463,"p":1746.5,"k":"rg"},{"b":463,"p":1741.7,"k":"bg"},{"b":464,"p":1743.9,"k":"rg"},{"b":464,"p":1741.5,"k":"rp"},
{"b":465,"p":1747.2,"k":"rg"},{"b":465,"p":1745.4,"k":"rp"},{"b":465,"p":1742.2,"k":"rp"},{"b":466,"p":1746.5,"k":"rg"},{"b":466,"p":1744.4,"k":"rp"},{"b":467,"p":1746.5,"k":"rg"},{"b":467,"p":1743.3,"k":"rp"},{"b":468,"p":1745.4,"k":"rg"},{"b":468,"p":1742.2,"k":"rp"},{"b":469,"p":1744.4,"k":"rg"},{"b":469,"p":1741.1,"k":"rp"},
{"b":470,"p":1742.6,"k":"rg"},{"b":470,"p":1740.7,"k":"rp"},{"b":471,"p":1745.4,"k":"rg"},{"b":471,"p":1742.2,"k":"rg"},{"b":471,"p":1740.0,"k":"rp"},{"b":472,"p":1744.4,"k":"rg"},{"b":472,"p":1741.1,"k":"rp"},{"b":472,"p":1738.9,"k":"rp"},{"b":473,"p":1742.8,"k":"rg"},{"b":473,"p":1739.6,"k":"rp"},
{"b":474,"p":1744.4,"k":"rg"},{"b":474,"p":1742.2,"k":"rp"},{"b":475,"p":1746.5,"k":"bg"},{"b":475,"p":1744.8,"k":"bg"},{"b":475,"p":1741.1,"k":"rp"},{"b":476,"p":1746.5,"k":"bg"},{"b":476,"p":1743.3,"k":"rg"},{"b":476,"p":1740.0,"k":"rp"},{"b":477,"p":1744.4,"k":"rg"},{"b":477,"p":1741.1,"k":"rp"},{"b":477,"p":1738.9,"k":"rp"},
{"b":478,"p":1742.6,"k":"rg"},{"b":478,"p":1740.7,"k":"rp"},{"b":479,"p":1743.3,"k":"rg"},{"b":479,"p":1740.7,"k":"rp"},{"b":480,"p":1743.7,"k":"rg"},{"b":480,"p":1740.7,"k":"rp"},{"b":480,"p":1739.4,"k":"rp"},{"b":481,"p":1742.8,"k":"rg"},{"b":481,"p":1740.0,"k":"rp"},{"b":482,"p":1742.2,"k":"rg"},{"b":482,"p":1739.4,"k":"rp"},
{"b":483,"p":1745.4,"k":"rg"},{"b":483,"p":1740.0,"k":"rp"},{"b":484,"p":1747.6,"k":"rp"},{"b":484,"p":1745.4,"k":"rg"},{"b":484,"p":1742.2,"k":"rp"},{"b":485,"p":1746.5,"k":"rg"},{"b":485,"p":1744.4,"k":"rg"},{"b":485,"p":1741.5,"k":"rp"},{"b":486,"p":1745.0,"k":"rg"},{"b":486,"p":1742.2,"k":"rg"},{"b":486,"p":1740.0,"k":"bp"},
{"b":487,"p":1745.4,"k":"rg"},{"b":487,"p":1741.1,"k":"rp"},{"b":488,"p":1744.4,"k":"rg"},{"b":488,"p":1741.5,"k":"rp"},{"b":488,"p":1738.9,"k":"rp"},{"b":489,"p":1743.3,"k":"rg"},{"b":489,"p":1739.4,"k":"rp"},{"b":490,"p":1743.3,"k":"rg"},{"b":490,"p":1740.0,"k":"rp"},{"b":490,"p":1737.2,"k":"rp"},
{"b":491,"p":1734.6,"k":"rp"},{"b":491,"p":1741.1,"k":"rg"},{"b":491,"p":1737.9,"k":"rp"},{"b":492,"p":1742.2,"k":"rg"},{"b":492,"p":1738.9,"k":"rp"},{"b":492,"p":1736.7,"k":"rp"},{"b":493,"p":1742.2,"k":"bg"},{"b":493,"p":1738.5,"k":"rp"},{"b":493,"p":1736.7,"k":"rp"},
{"b":494,"p":1743.7,"k":"bg"},{"b":494,"p":1741.1,"k":"bg"},{"b":494,"p":1737.9,"k":"bg"},{"b":495,"p":1744.4,"k":"bg"},{"b":495,"p":1741.1,"k":"bg"},{"b":495,"p":1738.9,"k":"bg"},{"b":496,"p":1745.0,"k":"bg"},{"b":496,"p":1742.2,"k":"bp"},{"b":496,"p":1736.7,"k":"bg"},
{"b":497,"p":1745.4,"k":"bg"},{"b":497,"p":1740.0,"k":"bg"},{"b":498,"p":1748.7,"k":"bg"},{"b":498,"p":1746.1,"k":"bg"},{"b":498,"p":1743.3,"k":"bg"},{"b":498,"p":1737.2,"k":"bg"},{"b":499,"p":1746.1,"k":"bg"},{"b":499,"p":1743.3,"k":"bp"},{"b":499,"p":1740.0,"k":"bg"},
{"b":500,"p":1743.3,"k":"bg"},{"b":500,"p":1744.4,"k":"rg"},{"b":501,"p":1745.4,"k":"rg"},{"b":501,"p":1742.2,"k":"rp"},{"b":502,"p":1744.4,"k":"rg"},{"b":502,"p":1741.5,"k":"rp"},{"b":503,"p":1743.3,"k":"rg"},{"b":503,"p":1741.1,"k":"rp"},{"b":504,"p":1744.4,"k":"rg"},{"b":504,"p":1742.2,"k":"rp"},{"b":505,"p":1743.3,"k":"rg"},{"b":505,"p":1742.2,"k":"rp"}
],
"wicks":[
{"b":18,"p":1852.5,"p2":1846,"c":"g"},{"b":21,"p":1848,"p2":1840,"c":"g"},{"b":41,"p":1845.5,"p2":1825.3,"c":"g"},{"b":42,"p":1851,"p2":1829,"c":"g"},{"b":43,"p":1867,"p2":1829.2,"c":"g"},{"b":44,"p":1873,"p2":1843.3,"c":"g"},{"b":44,"p":1859,"p2":1844.4,"c":"r"},{"b":45,"p":1867.4,"p2":1859.5,"c":"r"},
{"b":50,"p":1879,"p2":1860,"c":"g"},{"b":58,"p":1867.3,"p2":1858.5,"c":"g"},{"b":64,"p":1859,"p2":1840,"c":"g"},{"b":65,"p":1842,"p2":1820,"c":"g"},{"b":73,"p":1817.2,"p2":1809,"c":"g"},{"b":82,"p":1832,"p2":1825,"c":"g"},{"b":94,"p":1810,"p2":1805.2,"c":"g"},{"b":110,"p":1836.4,"p2":1825,"c":"g"},{"b":116,"p":1831,"p2":1813.5,"c":"g"},{"b":121,"p":1836.4,"p2":1829,"c":"g"},{"b":132,"p":1828,"p2":1815,"c":"g"},{"b":136,"p":1842.7,"p2":1832.5,"c":"g"},{"b":138,"p":1852.7,"p2":1845,"c":"g"},
{"b":151,"p":1841.8,"p2":1838,"c":"g"},{"b":156,"p":1853,"p2":1845,"c":"g"},{"b":163,"p":1833.5,"p2":1830,"c":"g"},{"b":170,"p":1838,"p2":1833,"c":"g"},{"b":177,"p":1838,"p2":1836.4,"c":"g"},{"b":202,"p":1843.5,"p2":1837,"c":"g"},{"b":223,"p":1846,"p2":1830,"c":"g"},{"b":224,"p":1847.9,"p2":1832,"c":"g"},{"b":222,"p":1836,"p2":1833.5,"c":"r"},{"b":245,"p":1830,"p2":1823.8,"c":"g"},{"b":264,"p":1831.8,"p2":1824,"c":"g"},{"b":270,"p":1826,"p2":1816.8,"c":"g"},
{"b":287,"p":1841.2,"p2":1835,"c":"g"},{"b":295,"p":1826,"p2":1820.5,"c":"g"},{"b":297,"p":1827,"p2":1822,"c":"g"},{"b":315,"p":1827,"p2":1820,"c":"g"},{"b":317,"p":1826.9,"p2":1820,"c":"g"},{"b":335,"p":1822,"p2":1812.2,"c":"g"},{"b":338,"p":1833.1,"p2":1820,"c":"g"},{"b":339,"p":1833,"p2":1819.4,"c":"g"},{"b":340,"p":1825,"p2":1820,"c":"b"},{"b":361,"p":1825.3,"p2":1806.4,"c":"g"},{"b":362,"p":1825.3,"p2":1810,"c":"g"},{"b":384,"p":1798.4,"p2":1785.3,"c":"g"},{"b":385,"p":1798.3,"p2":1789,"c":"g"},{"b":386,"p":1798.7,"p2":1791,"c":"g"},{"b":397,"p":1814.4,"p2":1810,"c":"g"},{"b":428,"p":1797,"p2":1781,"c":"g"},{"b":430,"p":1785.7,"p2":1770.5,"c":"g"},{"b":451,"p":1768,"p2":1760,"c":"g"},{"b":452,"p":1768,"p2":1752,"c":"g"},{"b":453,"p":1762.2,"p2":1743.3,"c":"g"},{"b":457,"p":1745,"p2":1732.8,"c":"g"},{"b":475,"p":1749.1,"p2":1738,"c":"g"},{"b":477,"p":1749.1,"p2":1740,"c":"g"},{"b":497,"p":1745,"p2":1733,"c":"g"},{"b":499,"p":1752.6,"p2":1744,"c":"g"}
]
},
"encoding":{
"x":{"field":"b","type":"quantitative","scale":{"domain":[4.5,507.5],"nice":false,"zero":false},
"axis":{"title":null,"grid":false,"orient":"bottom","values":[32,64,96,128,160,192,224,256,288,320,352,384,416,448,480],"labelExpr":"['10 Jun 04:00','13 Jun 13:00','14 Jun 23:01','16 Jun 08:00','17 Jun 17:00','21 Jun 05:00','22 Jun 14:00','24 Jun 00:00','27 Jun 09:00','28 Jun 18:00','30 Jun 04:00','1 Jul 13:00','5 Jul 01:00','6 Jul 10:00','7 Jul 19:00'][datum.value/32-1]","labelAlign":"left","labelBaseline":"top","labelPadding":1,"labelOverlap":false,"labelFlush":false,"labelBound":false,"labelColor":"#ffffff","labelFontSize":9.2,"tickColor":"#ffffff","tickSize":3,"domainColor":"#ffffff"}},
"y":{"field":"p","type":"quantitative","scale":{"domain":[1728.7,1886.62],"nice":false,"zero":false},
"axis":{"title":null,"grid":false,"orient":"right","values":[1880.1,1872.9,1865.7,1858.5,1851.3,1844.1,1836.9,1829.7,1822.5,1815.3,1808.3,1801.1,1793.9,1786.7,1779.5,1772.3,1765.1,1757.9,1750.7,1743.5,1736.3,1729.1],"format":".2f","labelOverlap":false,"labelBound":false,"labelFlush":false,"labelPadding":3,"labelColor":"#ffffff","labelFontSize":9.2,"tickColor":"#ffffff","tickSize":3,"domainColor":"#ffffff"}}
},
"layer":[
{"data":{"values":[{"p":1742.6,"d":"a"},{"p":1742.05,"d":"b"}]},"mark":{"type":"rule","strokeWidth":1.5,"color":"#2fbf5f"},"encoding":{"x":{"value":0},"x2":{"value":1006},"strokeDash":{"field":"d","type":"nominal","legend":null,"scale":{"domain":["a","b"],"range":[[26,3,5,3],[9,7,4,7]]}}}},
{"data":{"values":[{"p":1742.5}]},"mark":{"type":"rule","strokeWidth":1,"color":"#778899"},"encoding":{"x":{"value":0},"x2":{"value":1006}}},
{"data":{"name":"wicks"},"mark":{"type":"rule","strokeWidth":1,"xOffset":0.5},"encoding":{"y2":{"field":"p2"},"color":{"field":"c","type":"nominal","legend":null,"scale":{"domain":["g","r","b"],"range":["#00ff00","#ff0000","#4169e1"]}}}},
{"data":{"name":"arrows"},"transform":[{"filter":"datum.b%3==0||(datum.b>=41&&datum.b<=44)||(datum.b>=63&&datum.b<=64)||datum.b==135||(datum.b>=336&&datum.b<=338)||datum.b==360||(datum.b>=428&&datum.b<=429)||(datum.b>=452&&datum.b<=453)"}],"mark":{"type":"point","filled":true,"size":256,"opacity":1,"strokeWidth":0},"encoding":{"fill":{"field":"k","type":"nominal","legend":null,"scale":{"domain":["rg","rp","bg","bp"],"range":["#daa520","#ee82ee","#daa520","#ee82ee"]}},"shape":{"field":"k","type":"nominal","legend":null,"scale":{"domain":["rg","rp","bg","bp"],"range":["M0.2,-0.4L0.8,-1L0.8,0.2Z","M0.2,0.35L0.8,-0.25L0.8,0.95Z","M0.2,-0.4L0.8,-1L0.8,0.2Z","M0.2,0.35L0.8,-0.25L0.8,0.95Z"]}}}},
{"data":{"name":"arrows"},"mark":{"type":"point","filled":true,"size":256,"opacity":1,"stroke":"#ffffff","strokeWidth":0.8,"shape":"M-0.5,-0.2L0,-0.2L0,-0.5L0.5,0L0,0.5L0,0.2L-0.5,0.2Z"},"encoding":{"color":{"field":"k","type":"nominal","legend":null,"scale":{"domain":["rg","rp","bg","bp"],"range":["#ff0000","#ff0000","#4169e1","#4169e1"]}},"stroke":{"value":"#ffffff"}}},
{"data":{"values":[{"p":1886.62}]},"mark":{"type":"rule","color":"#ffffff","strokeWidth":1},"encoding":{"x":{"value":0},"x2":{"value":1006}}},
{"data":{"values":[{"b":0,"p":1726.7,"t":"9 Jun 18:00"}]},"mark":{"type":"text","align":"left","baseline":"middle","color":"#ffffff","fontSize":9.2},"encoding":{"text":{"field":"t"}}},
{"data":{"values":[{"b":507.5,"b2":528.5,"p":1744.35,"p2":1741.5}]},"mark":{"type":"rect","color":"#ffffff"},"encoding":{"x2":{"field":"b2"},"y2":{"field":"p2"}}},
{"data":{"values":[{"b":510,"p":1742.8,"t":"1742.50"}]},"mark":{"type":"text","align":"left","baseline":"middle","color":"#000000","fontSize":10},"encoding":{"text":{"field":"t"}}},
{"data":{"values":[{"b":496.5,"b2":506,"p":1731.1,"p2":1727}]},"mark":{"type":"rect","color":"#c8503a","cornerRadius":4},"encoding":{"x2":{"field":"b2"},"y2":{"field":"p2"}}},
{"data":{"values":[{"b":501,"p":1729.1}]},"mark":{"type":"point","filled":true,"shape":"circle","size":70,"color":"#e8c8c0","opacity":1}},
{"data":{"values":[{"b":510.5,"p":1729.4,"t":"1729.10"}]},"mark":{"type":"text","align":"left","baseline":"middle","color":"#b03a2a","fontSize":10},"encoding":{"text":{"field":"t"}}},
{"data":{"values":[{"b":531,"b2":533,"p":1886.9,"p2":1725}]},"mark":{"type":"rect","color":"#c8c8c8"},"encoding":{"x2":{"field":"b2"},"y2":{"field":"p2"}}}
],
"resolve":{"scale":{"color":"independent","fill":"independent","shape":"independent"}}
}
